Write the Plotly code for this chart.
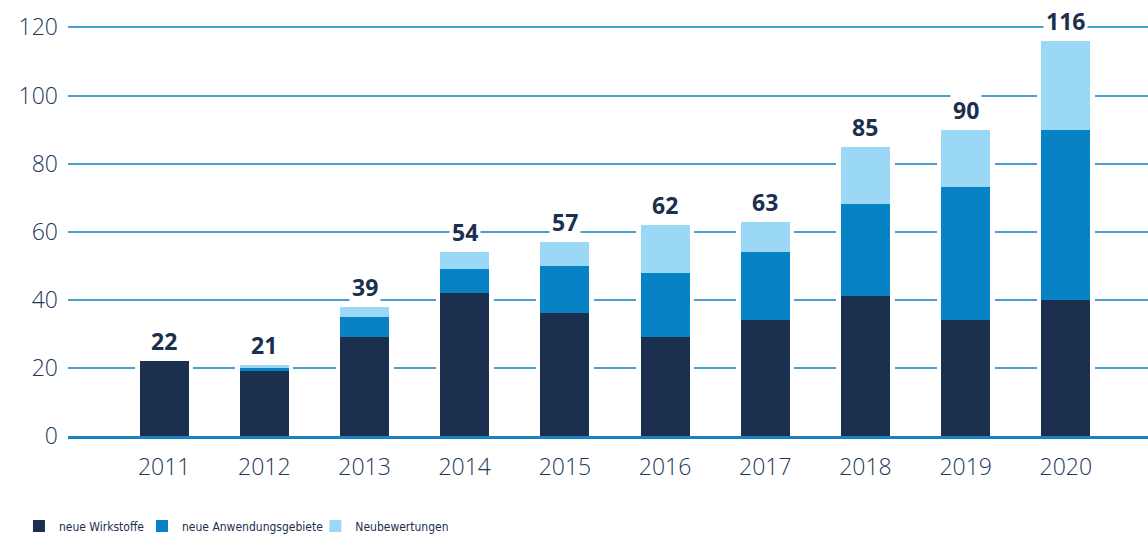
import plotly.graph_objects as go

years = ["2011", "2012", "2013", "2014", "2015", "2016", "2017", "2018", "2019", "2020"]
neue_wirkstoffe = [22, 19, 29, 42, 36, 29, 34, 41, 34, 40]
neue_anwendungsgebiete = [0, 1, 6, 7, 14, 19, 20, 27, 39, 50]
neubewertungen = [0, 1, 3, 5, 7, 14, 9, 17, 17, 26]
total_labels = [22, 21, 39, 54, 57, 62, 63, 85, 90, 116]
y_ticks = [0, 20, 40, 60, 80, 100, 120]

NAVY = "#1b2f4e"
MID = "#0783c5"
LIGHT = "#9bd8f6"
GRID = "#4a9fcc"

base2 = list(neue_wirkstoffe)
base3 = [a + b for a, b in zip(neue_wirkstoffe, neue_anwendungsgebiete)]
sums = [a + b for a, b in zip(base3, neubewertungen)]

fig = go.Figure()
# white halo behind each stacked bar (breaks the gridlines like the original)
fig.add_trace(go.Bar(x=years, y=sums, width=0.58, marker=dict(color="white", line=dict(width=0)),
                     showlegend=False, hoverinfo="skip"))
fig.add_trace(go.Bar(x=years, y=neue_wirkstoffe, base=[0] * len(years), width=0.49,
                     name="neue Wirkstoffe", legend="legend",
                     marker=dict(color=NAVY, line=dict(width=0))))
fig.add_trace(go.Bar(x=years, y=neue_anwendungsgebiete, base=base2, width=0.49,
                     name="neue Anwendungsgebiete", legend="legend2",
                     marker=dict(color=MID, line=dict(width=0))))
fig.add_trace(go.Bar(x=years, y=neubewertungen, base=base3, width=0.49,
                     name="Neubewertungen", legend="legend3",
                     marker=dict(color=LIGHT, line=dict(width=0))))

for i, (s, lab) in enumerate(zip(sums, total_labels)):
    fig.add_annotation(x=i, y=s, xref="x", yref="y", text=f"<b>{lab}</b>", showarrow=False,
                       yanchor="bottom", yshift=1, bgcolor="white", borderpad=2,
                       font=dict(family="Open Sans, sans-serif", size=23, color=NAVY))

leg_font = dict(family="DejaVu Sans Condensed, Liberation Sans Narrow, Roboto, sans-serif",
                size=12, color=NAVY)
leg_common = dict(orientation="h", xanchor="left", y=-0.21, yanchor="middle",
                  font=leg_font, itemwidth=30, bgcolor="rgba(0,0,0,0)")

tick_font = dict(family="Open Sans, sans-serif", size=23, color="#22375a", weight=300)

fig.update_layout(
    width=1148, height=543,
    margin=dict(l=68, r=0, t=7, b=107),
    paper_bgcolor="white", plot_bgcolor="white",
    barmode="overlay",
    bargap=0,
    font=dict(family="Open Sans, sans-serif", color=NAVY),
    xaxis=dict(type="category", range=[-0.96, 9.82], showgrid=False, zeroline=False,
               showline=True, linecolor="#1a82c4", linewidth=3, layer="above traces",
               ticks="", ticklabelstandoff=8, automargin=False, tickfont=tick_font),
    yaxis=dict(range=[0, 126], tickvals=y_ticks, showgrid=True, gridcolor=GRID, gridwidth=1.5,
               zeroline=False, showline=False, ticks="", ticklabelstandoff=9, automargin=False,
               tickfont=tick_font),
    legend=dict(x=-0.0454, **leg_common),
    legend2=dict(x=0.0685, **leg_common),
    legend3=dict(x=0.229, **leg_common),
)

fig.write_html("out.html", config={"displayModeBar": False},
               post_script="document.body.style.margin='0';document.body.style.overflow='hidden';")
